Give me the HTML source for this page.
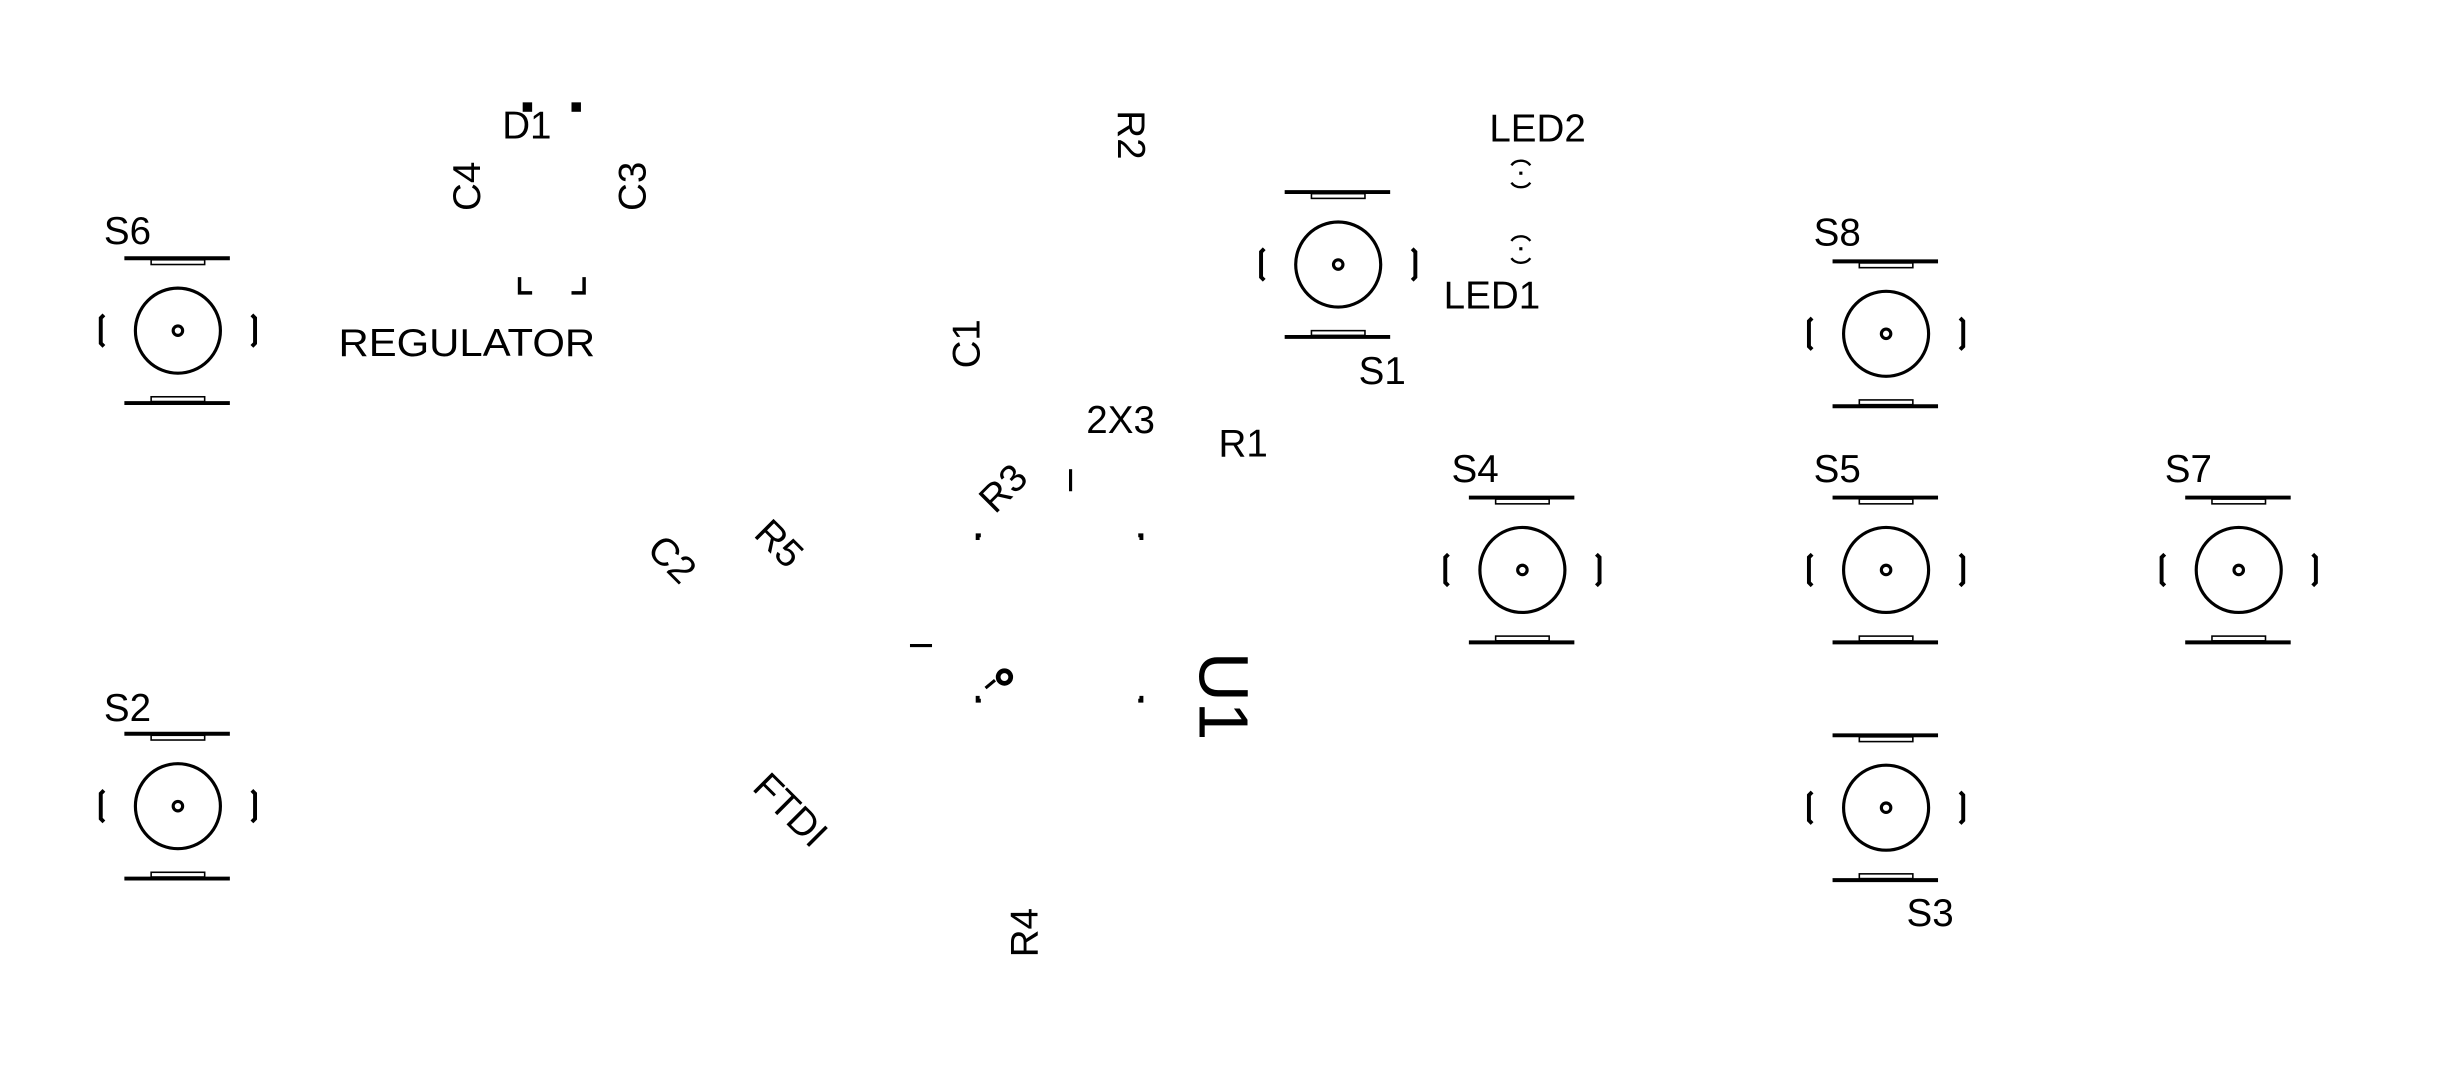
<!DOCTYPE html>
<html><head><meta charset="utf-8"><style>
html,body{margin:0;padding:0;background:#fff}
svg{display:block}
text{font-family:"Liberation Sans",sans-serif;font-size:24.5px;fill:#000}
</style></head><body>
<svg id="pcb" width="2456" height="1065" viewBox="0 0 1560 676.4" preserveAspectRatio="none" xmlns="http://www.w3.org/2000/svg">
<rect width="1560" height="676.4" fill="#fff"/>
<g id="sw" stroke="#000" fill="none" stroke-width="2"></g>
<g stroke="#000" fill="none" stroke-width="2">
  <rect x="332" y="65" width="6" height="6" fill="#000" stroke="none"/>
  <rect x="363" y="65" width="6" height="6" fill="#000" stroke="none"/>
  <path d="M330 176 V186 H338 M371 176 V186 H363" stroke-width="2.2"/>
  <path d="M621 343 V340 H623 M725 343 V340 H723 M621 442 V445 H623 M725 442 V445 H723" stroke-width="2.5"/>
  <path d="M680 298 V312"/>
  <path d="M578 410 H592"/>
  <circle cx="638" cy="430" r="4" stroke-width="3"/>
  <path d="M626 437 L632 432"/>
  <path d="M960 105 A7 6 0 0 1 972 105 M960 116 A7 6 0 0 0 972 116" stroke-width="1.5"/>
  <rect x="965" y="109" width="2" height="2" fill="#000" stroke="none"/>
  <path d="M960 153 A7 6 0 0 1 972 153 M960 164 A7 6 0 0 0 972 164" stroke-width="1.5"/>
  <rect x="965" y="157" width="2" height="2" fill="#000" stroke="none"/>
</g>
<g>
  <text x="66" y="155">S6</text>
  <text x="66" y="458">S2</text>
  <text x="863" y="244">S1</text>
  <text x="1152" y="156">S8</text>
  <text x="922" y="306">S4</text>
  <text x="1152" y="306">S5</text>
  <text x="1375" y="306">S7</text>
  <text x="1211" y="588">S3</text>
  <text x="319" y="88">D1</text>
  <text x="215" y="226" textLength="163" lengthAdjust="spacingAndGlyphs">REGULATOR</text>
  <text x="690" y="275">2X3</text>
  <text x="774" y="290">R1</text>
  <text x="946" y="90">LED2</text>
  <text x="917" y="196">LED1</text>
  <text transform="translate(305,134) rotate(-90)">C4</text>
  <text transform="translate(410,134) rotate(-90)">C3</text>
  <text transform="translate(710,70) rotate(90)">R2</text>
  <text transform="translate(622,234) rotate(-90)">C1</text>
  <text transform="translate(659,608) rotate(-90)">R4</text>
  <text transform="translate(632,327) rotate(-45)">R3</text>
  <text transform="translate(410,350) rotate(45)">C2</text>
  <text transform="translate(478,340) rotate(45)">R5</text>
  <text transform="translate(477,501) rotate(45)">FTDI</text>
  <text transform="translate(762,414) rotate(90)" style="font-size:44px">U1</text>
</g>
</svg>
<script>
const swNames=['S6','S2','S1','S8','S4','S5','S7','S3'];
const swX=[113,113,850,1198,967,1198,1422,1198];
const swY=[210,512,168,212,362,362,362,513];
const g=document.getElementById('sw');
const NS='http://www.w3.org/2000/svg';
swNames.forEach((n,i)=>{
  const x=swX[i],y=swY[i];
  const grp=document.createElementNS(NS,'g');
  
  
  grp.innerHTML=
   `<circle cx="${x}" cy="${y}" r="27"/>`+
   `<circle cx="${x}" cy="${y}" r="3"/>`+
   `<path d="M${x-34} ${y-46} H${x+33}" stroke-width="2.5"/>`+
   `<rect x="${x-17}" y="${y-45}" width="34" height="3" stroke-width="1"/>`+
   `<path d="M${x-34} ${y+46} H${x+33}" stroke-width="2.5"/>`+
   `<rect x="${x-17}" y="${y+42}" width="34" height="3" stroke-width="1"/>`+
   `<path d="M${x-47} ${y-10} L${x-49} ${y-8} V${y+8} L${x-47} ${y+10}" stroke-width="2.5"/>`+
   `<path d="M${x+47} ${y-10} L${x+49} ${y-8} V${y+8} L${x+47} ${y+10}" stroke-width="2.5"/>`;
  g.appendChild(grp);
});
</script>
</body></html>
